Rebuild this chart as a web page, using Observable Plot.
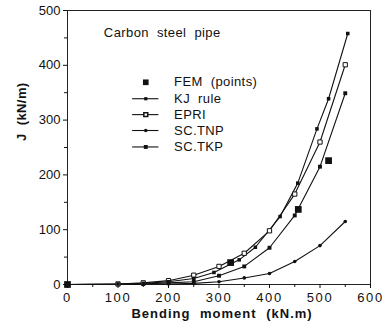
<!DOCTYPE html>
<html>
<head>
<meta charset="utf-8">
<script src="https://cdn.jsdelivr.net/npm/d3@7"></script>
<script src="https://cdn.jsdelivr.net/npm/@observablehq/plot@0.6"></script>
<style>
  html, body { margin: 0; padding: 0; background: #fff; }
  svg { font-family: "Liberation Sans", Arial, sans-serif; }
  g[aria-label="x-axis tick label"] text { letter-spacing: 1.6px; }
  g[aria-label="text"] text { word-spacing: 4px; letter-spacing: 0.4px; }
  g[aria-label="text"] text.xtitle { word-spacing: 5px; letter-spacing: 1px; }
</style>
</head>
<body>
<div id="chart"></div>
<script>
// Data
const moments = [0, 100, 150, 200, 250, 300, 350, 400, 450, 500, 550];
const epriJ   = [0, 1, 3, 7, 17, 33, 57, 98, 165, 260, 401];
const tkpJ    = [0, 0.5, 1, 3, 5, 16, 33, 67, 126, 215, 349];
const tnpJ    = [0, 0, 0.5, 1, 2, 5, 12, 20, 42, 71, 115];
const kjM     = [0, 100, 150, 200, 250, 290, 340, 372, 421, 456, 494, 517, 555];
const kjJ     = [0, 1, 2, 5, 11, 22, 45, 68, 124, 185, 284, 339, 458];
const femM    = [0, 323, 457, 517];
const femJ    = [0, 40, 137, 226];
const legendNames = ["FEM (points)", "KJ rule", "EPRI", "SC.TNP", "SC.TKP"];
const legendRowsJ = [369, 339, 310, 281, 251];
const xMajor = [0, 100, 200, 300, 400, 500, 600];
const xMinor = [50, 150, 250, 350, 450, 550];
const yMajor = [0, 100, 200, 300, 400, 500];
const yMinor = [50, 150, 250, 350, 450];

const zip = (xs, ys) => xs.map((x, i) => ({x, y: ys[i]}));
const epri = zip(moments, epriJ);
const tkp = zip(moments, tkpJ);
const tnp = zip(moments, tnpJ);
const kj = zip(kjM, kjJ);
const fem = zip(femM, femJ);

// legend table (data coordinates inside the frame)
const legX0 = 129, legX1 = 181, legMid = 155, legText = 211;
const legend = legendNames.map((name, i) => ({name, y: legendRowsJ[i]}));
const legLines = legend.filter(d => d.name !== "FEM (points)");

const chart = Plot.plot({
  width: 385,
  height: 331,
  marginLeft: 67,
  marginRight: 15,
  marginTop: 10,
  marginBottom: 47,
  x: {domain: [0, 600]},
  y: {domain: [0, 500]},
  style: {fontFamily: "'Liberation Sans', Arial, sans-serif", fontSize: "12px", color: "#111", background: "#fff"},
  marks: [
    Plot.frame({stroke: "#222", strokeWidth: 1}),
    Plot.axisX(xMajor, {tickSize: 4, tickPadding: 4, fontSize: 13, label: null}),
    Plot.axisX(xMinor, {tickSize: 3, tickFormat: () => "", label: null}),
    Plot.axisY(yMajor, {tickSize: 4, tickPadding: 3, fontSize: 13, label: null}),
    Plot.axisY(yMinor, {tickSize: 3, tickFormat: () => "", label: null}),
    // series lines
    Plot.line(kj, {x: "x", y: "y", stroke: "#111", strokeWidth: 1.1}),
    Plot.line(epri, {x: "x", y: "y", stroke: "#111", strokeWidth: 1.1}),
    Plot.line(tkp, {x: "x", y: "y", stroke: "#111", strokeWidth: 1.1}),
    Plot.line(tnp, {x: "x", y: "y", stroke: "#111", strokeWidth: 1.1}),
    // markers
    Plot.dot(tnp, {x: "x", y: "y", r: 1.8, fill: "#111", stroke: "none"}),
    Plot.dot(tkp, {x: "x", y: "y", symbol: "square", r: 2.2, fill: "#111"}),
    Plot.dot(epri, {x: "x", y: "y", symbol: "square", r: 2.4, fill: "#fff", stroke: "#111", strokeWidth: 1}),
    Plot.dot(kj, {x: "x", y: "y", symbol: "square", r: 2.0, fill: "#111"}),
    Plot.dot(fem, {x: "x", y: "y", symbol: "square", r: 3.8, fill: "#111"}),
    // annotation
    Plot.text(["Carbon steel pipe"], {x: 72, y: 460, text: d => d, textAnchor: "start", fontSize: 13, fill: "#111"}),
    // legend
    Plot.ruleY(legLines, {y: "y", x1: legX0, x2: legX1, stroke: "#111", strokeWidth: 1.1}),
    Plot.dot(legend.filter(d => d.name === "FEM (points)"), {x: legMid, y: "y", symbol: "square", r: 3.2, fill: "#111"}),
    Plot.dot(legend.filter(d => d.name === "KJ rule"), {x: legMid, y: "y", symbol: "square", r: 1.8, fill: "#111"}),
    Plot.dot(legend.filter(d => d.name === "EPRI"), {x: legMid, y: "y", symbol: "square", r: 2.2, fill: "#fff", stroke: "#111"}),
    Plot.dot(legend.filter(d => d.name === "SC.TNP"), {x: legMid, y: "y", r: 1.8, fill: "#111"}),
    Plot.dot(legend.filter(d => d.name === "SC.TKP"), {x: legMid, y: "y", symbol: "square", r: 2.2, fill: "#111"}),
    Plot.text(legend, {x: legText, y: "y", text: "name", textAnchor: "start", fontSize: 13, fill: "#111"}),
    // axis titles
    Plot.text(["Bending moment (kN.m)"], {x: 306, frameAnchor: "bottom", dy: 33, text: d => d, fontSize: 13, fontWeight: "bold", fill: "#111"}),
    Plot.text(["J (kN/m)"], {y: 262, frameAnchor: "left", dx: -46, rotate: -90, text: d => d, fontSize: 13, fontWeight: "bold", fill: "#111"})
  ]
});
d3.select(chart).selectAll("text")
  .filter(function() { return this.textContent === "Bending moment (kN.m)"; })
  .classed("xtitle", true);
document.getElementById("chart").appendChild(chart);
</script>
</body>
</html>
